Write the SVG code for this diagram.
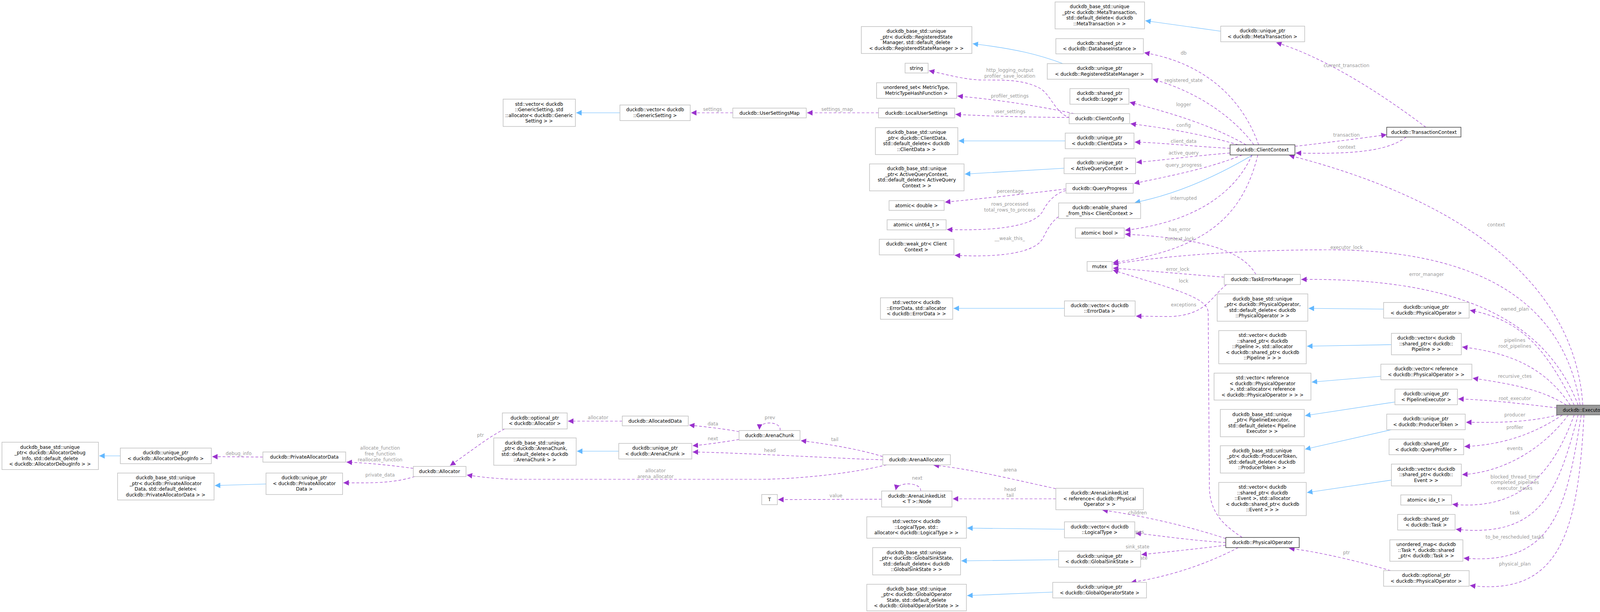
<svg xmlns="http://www.w3.org/2000/svg" width="4124" height="1568" viewBox="0 0 4124 1568">
<style>
text{font-family:"DejaVu Sans","Liberation Sans",sans-serif;font-size:12px;fill:#000;text-anchor:middle}
.n rect{fill:#fff;stroke:#bfbfbf;stroke-width:1.5}
.k rect{fill:#fff;stroke:#404040;stroke-width:1.5}
.x rect{fill:#999;stroke:#666;stroke-width:1.5}
.e path{fill:none}
.p{stroke:#9a32cd;stroke-dasharray:7,5;stroke-width:1.2;marker-end:url(#mp)}
.b{stroke:#63b8ff;stroke-width:1.2;marker-end:url(#mb)}
.l text{fill:#9a9a9a}
</style>
<defs>
<marker id="mp" viewBox="0 0 10 10" refX="10" refY="5" markerWidth="14" markerHeight="14" markerUnits="userSpaceOnUse" orient="auto"><path d="M0,0L10,5L0,10z" fill="#9a32cd"/></marker>
<marker id="mb" viewBox="0 0 10 10" refX="10" refY="5" markerWidth="14" markerHeight="14" markerUnits="userSpaceOnUse" orient="auto"><path d="M0,0L10,5L0,10z" fill="#63b8ff"/></marker>
</defs>
<rect width="4124" height="1568" fill="#fff"/>
<g id="edges" class="e">
<path class="b" d="M3125,80 L2932,53"/>
<path class="b" d="M2721,163 C2660,140 2600,125 2490,112"/>
<path class="b" d="M2727,361 L2454,361"/>
<path class="b" d="M2724,431 L2470,446"/>
<path class="b" d="M3207,397 C3100,460 3000,500 2905,519"/>
<path class="b" d="M1587,289 L1475,289"/>
<path class="b" d="M308,1168 L254,1168"/>
<path class="b" d="M681,1240 L550,1244"/>
<path class="b" d="M1584,1156 L1477,1156"/>
<path class="b" d="M2725,790 L2441,790"/>
<path class="b" d="M2725,1356 L2476,1353"/>
<path class="b" d="M2710,1434 L2461,1437"/>
<path class="b" d="M2695,1517 L2476,1526"/>
<path class="b" d="M3542,792 L3350,790"/>
<path class="b" d="M3562,883 L3346,887"/>
<path class="b" d="M3535,964 L3358,979"/>
<path class="b" d="M3571,1030 L3341,1065"/>
<path class="b" d="M3562,1101 L3341,1151"/>
<path class="b" d="M3562,1230 L3346,1262"/>
<path class="p" d="M3222,371 C3180,250 3080,160 2929,135"/>
<path class="p" d="M3210,371 C3150,290 3050,230 2951,203"/>
<path class="p" d="M3190,371 C3100,320 3000,290 2892,262"/>
<path class="p" d="M3170,371 C3080,345 3000,330 2894,317"/>
<path class="p" d="M3149,380 C3050,375 2980,366 2905,364"/>
<path class="p" d="M3149,392 C3050,400 2980,410 2909,416"/>
<path class="p" d="M3180,397 C3100,430 3000,450 2903,470"/>
<path class="p" d="M3205,397 C3160,500 3050,570 2880,590"/>
<path class="p" d="M3220,397 C3180,560 3080,640 2849,673"/>
<path class="p" d="M3315,375 C3400,365 3480,355 3550,345"/>
<path class="p" d="M3600,351 C3550,390 3450,395 3317,392"/>
<path class="p" d="M3650,326 C3550,250 3400,150 3267,109"/>
<path class="p" d="M4052,1038 C4030,700 3700,500 3300,398"/>
<path class="p" d="M4045,1038 C4000,750 3750,640 3400,640 C3150,640 2950,660 2849,677"/>
<path class="p" d="M4040,1038 C3950,800 3700,712 3331,716"/>
<path class="p" d="M4030,1038 C3960,900 3900,820 3763,795"/>
<path class="p" d="M4020,1038 C3960,950 3880,905 3743,889"/>
<path class="p" d="M4010,1038 C3950,1000 3880,985 3770,969"/>
<path class="p" d="M3986,1045 C3900,1035 3820,1025 3733,1022"/>
<path class="p" d="M3990,1063 C3900,1085 3820,1082 3753,1082"/>
<path class="p" d="M4000,1063 C3930,1110 3850,1140 3749,1144"/>
<path class="p" d="M4015,1063 C3950,1150 3850,1210 3743,1216"/>
<path class="p" d="M4030,1063 C3980,1200 3900,1310 3718,1292"/>
<path class="p" d="M4040,1063 C3990,1250 3950,1380 3727,1356"/>
<path class="p" d="M4048,1063 C4010,1300 3980,1450 3747,1430"/>
<path class="p" d="M4055,1063 C4040,1350 4000,1530 3763,1500"/>
<path class="p" d="M3215,703 C3180,640 3070,610 2880,600"/>
<path class="p" d="M3134,710 C3000,700 2900,690 2849,687"/>
<path class="p" d="M3140,729 C3100,760 3090,805 3000,811 L2908,810"/>
<path class="p" d="M3180,1377 C3140,1350 3098,1320 3096,1250 L3093,800 C3090,760 3000,740 2849,692"/>
<path class="p" d="M3138,1380 C3050,1350 2920,1320 2822,1307"/>
<path class="p" d="M3138,1390 C3050,1385 2950,1370 2907,1366"/>
<path class="p" d="M3138,1397 C3050,1408 2950,1418 2922,1421"/>
<path class="p" d="M3170,1403 C3080,1450 2980,1480 2895,1492"/>
<path class="p" d="M3560,1462 C3450,1430 3350,1410 3300,1405"/>
<path class="p" d="M2703,1252 C2600,1230 2480,1200 2390,1192"/>
<path class="p" d="M2703,1278 L2439,1278"/>
<path class="p" d="M2357,1258 C2360,1236 2298,1232 2293,1256"/>
<path class="p" d="M2257,1279 L1992,1280"/>
<path class="p" d="M2260,1170 C2200,1150 2100,1135 2050,1129"/>
<path class="p" d="M2260,1178 C2150,1175 1900,1160 1773,1158"/>
<path class="p" d="M2270,1191 C2150,1220 2000,1228 1950,1228 L1330,1228 C1280,1228 1230,1222 1195,1217"/>
<path class="p" d="M1892,1106 C1850,1098 1800,1093 1764,1089"/>
<path class="p" d="M1892,1126 C1850,1133 1800,1140 1773,1142"/>
<path class="p" d="M1997,1103 C2002,1080 1945,1075 1944,1101"/>
<path class="p" d="M1593,1079 L1454,1079"/>
<path class="p" d="M1292,1099 C1250,1120 1200,1160 1152,1193"/>
<path class="p" d="M1058,1200 C1000,1192 940,1186 887,1184"/>
<path class="p" d="M1062,1221 C1000,1240 940,1237 879,1237"/>
<path class="p" d="M673,1171 L543,1170"/>
<path class="p" d="M2740,302 C2700,290 2690,240 2660,225 C2620,205 2580,205 2520,205 C2470,205 2420,190 2378,181"/>
<path class="p" d="M2750,291 C2650,270 2550,255 2451,246"/>
<path class="p" d="M2737,301 C2600,300 2500,296 2446,293"/>
<path class="p" d="M2249,289 L2066,289"/>
<path class="p" d="M1876,289 L1769,289"/>
<path class="p" d="M2729,484 C2600,500 2500,510 2419,518"/>
<path class="p" d="M2729,488 C2700,495 2680,520 2670,540 C2650,580 2550,592 2424,588"/>
<path class="p" d="M2710,555 C2690,570 2680,590 2670,610 C2650,650 2550,660 2444,654"/>
</g>
<g id="labels" class="l">
<text x="3030" y="140">db</text><text x="3030" y="210">registered_state</text><text x="3030" y="272">logger</text><text x="3030" y="325">config</text><text x="3030" y="366">client_data</text><text x="3030" y="396">active_query</text><text x="3030" y="427">query_progress</text><text x="3030" y="512">interrupted</text><text x="3020" y="592">has_error</text><text x="3020" y="616">context_lock</text>
<text x="3447" y="350">transaction</text><text x="3447" y="381">context</text><text x="3447" y="172">current_transaction</text><text x="3830" y="580">context</text>
<text x="3447" y="638">executor_lock</text><text x="3652" y="707">error_manager</text><text x="3015" y="694">error_lock</text><text x="3030" y="724">lock</text><text x="3030" y="785">exceptions</text>
<text x="3878" y="796">owned_plan</text><text x="3878" y="876">pipelines</text><text x="3878" y="891">root_pipelines</text><text x="3878" y="968">recursive_ctes</text><text x="3878" y="1025">root_executor</text><text x="3878" y="1067">producer</text><text x="3878" y="1099">profiler</text><text x="3878" y="1153">events</text><text x="3878" y="1226">blocked_thread_time</text><text x="3878" y="1240">completed_pipelines</text><text x="3878" y="1255">executor_tasks</text><text x="3878" y="1318">task</text><text x="3878" y="1380">to_be_rescheduled_tasks</text><text x="3878" y="1449">physical_plan</text>
<text x="3447" y="1420">ptr</text><text x="2912" y="1318">children</text><text x="2912" y="1367">types</text><text x="2912" y="1405">sink_state</text><text x="2912" y="1434">op_state</text>
<text x="2586" y="1208">arena</text><text x="2586" y="1258">head</text><text x="2586" y="1273">tail</text><text x="2348" y="1229">next</text><text x="2140" y="1274">value</text><text x="2137" y="1130">tail</text><text x="1971" y="1158">head</text><text x="1678" y="1210">allocator</text><text x="1678" y="1225">arena_allocator</text>
<text x="1825" y="1090">data</text><text x="1825" y="1128">next</text><text x="1971" y="1074">prev</text><text x="1531" y="1074">allocator</text><text x="1230" y="1119">ptr</text>
<text x="973" y="1152">allocate_function</text><text x="973" y="1167">free_function</text><text x="973" y="1182">reallocate_function</text><text x="973" y="1221">private_data</text><text x="611" y="1166">debug_info</text>
<text x="2585" y="184">http_logging_output</text><text x="2585" y="199">profiler_save_location</text><text x="2585" y="250">profiler_settings</text><text x="2585" y="290">user_settings</text><text x="2143" y="284">settings_map</text><text x="1824" y="284">settings</text>
<text x="2586" y="494">percentage</text><text x="2585" y="527">rows_processed</text><text x="2585" y="542">total_rows_to_process</text><text x="2585" y="615">__weak_this_</text>
</g>
<g id="n1" class="n"><rect x="2701" y="5" width="229" height="69"/><text x="2815" y="21">duckdb_base_std::unique</text><text x="2815" y="36">_ptr&lt; duckdb::MetaTransaction,</text><text x="2815" y="50">std::default_delete&lt; duckdb</text><text x="2815" y="65">::MetaTransaction &gt; &gt;</text></g>
<g id="n2" class="n"><rect x="2205" y="68" width="283" height="69"/><text x="2346" y="84">duckdb_base_std::unique</text><text x="2346" y="99">_ptr&lt; duckdb::RegisteredState</text><text x="2346" y="113">Manager, std::default_delete</text><text x="2346" y="128">&lt; duckdb::RegisteredStateManager &gt; &gt;</text></g>
<g id="n3" class="n"><rect x="2703" y="99" width="224" height="39"/><text x="2815" y="115">duckdb::shared_ptr</text><text x="2815" y="129">&lt; duckdb::DatabaseInstance &gt;</text></g>
<g id="n4" class="n"><rect x="2317" y="162" width="59" height="25"/><text x="2346" y="179">string</text></g>
<g id="n5" class="n"><rect x="2681" y="163" width="268" height="40"/><text x="2815" y="179">duckdb::unique_ptr</text><text x="2815" y="194">&lt; duckdb::RegisteredStateManager &gt;</text></g>
<g id="n6" class="n"><rect x="2244" y="212" width="205" height="40"/><text x="2346" y="228">unordered_set&lt; MetricType,</text><text x="2346" y="243">MetricTypeHashFunction &gt;</text></g>
<g id="n7" class="n"><rect x="2739" y="227" width="151" height="40"/><text x="2815" y="243">duckdb::shared_ptr</text><text x="2815" y="258">&lt; duckdb::Logger &gt;</text></g>
<g id="n8" class="n"><rect x="2249" y="277" width="195" height="25"/><text x="2346" y="294">duckdb::LocalUserSettings</text></g>
<g id="n9" class="n"><rect x="2737" y="291" width="155" height="26"/><text x="2815" y="308">duckdb::ClientConfig</text></g>
<g id="n10" class="n"><rect x="2241" y="327" width="211" height="69"/><text x="2346" y="343">duckdb_base_std::unique</text><text x="2346" y="358">_ptr&lt; duckdb::ClientData,</text><text x="2346" y="372">std::default_delete&lt; duckdb</text><text x="2346" y="387">::ClientData &gt; &gt;</text></g>
<g id="n11" class="n"><rect x="2727" y="341" width="176" height="40"/><text x="2815" y="357">duckdb::unique_ptr</text><text x="2815" y="372">&lt; duckdb::ClientData &gt;</text></g>
<g id="n12" class="n"><rect x="2724" y="405" width="183" height="40"/><text x="2815" y="421">duckdb::unique_ptr</text><text x="2815" y="436">&lt; ActiveQueryContext &gt;</text></g>
<g id="n13" class="n"><rect x="2226" y="420" width="242" height="69"/><text x="2347" y="436">duckdb_base_std::unique</text><text x="2347" y="451">_ptr&lt; ActiveQueryContext,</text><text x="2347" y="465">std::default_delete&lt; ActiveQuery</text><text x="2347" y="480">Context &gt; &gt;</text></g>
<g id="n14" class="n"><rect x="2729" y="470" width="172" height="25"/><text x="2815" y="487">duckdb::QueryProgress</text></g>
<g id="n15" class="n"><rect x="2276" y="514" width="141" height="25"/><text x="2346" y="531">atomic&lt; double &gt;</text></g>
<g id="n16" class="n"><rect x="2710" y="520" width="210" height="40"/><text x="2815" y="536">duckdb::enable_shared</text><text x="2815" y="551">_from_this&lt; ClientContext &gt;</text></g>
<g id="n17" class="n"><rect x="2271" y="563" width="151" height="26"/><text x="2346" y="580">atomic&lt; uint64_t &gt;</text></g>
<g id="n18" class="n"><rect x="2753" y="584" width="125" height="26"/><text x="2815" y="601">atomic&lt; bool &gt;</text></g>
<g id="n19" class="n"><rect x="2251" y="613" width="191" height="40"/><text x="2346" y="629">duckdb::weak_ptr&lt; Client</text><text x="2346" y="644">Context &gt;</text></g>
<g id="n20" class="n"><rect x="2783" y="670" width="64" height="25"/><text x="2815" y="687">mutex</text></g>
<g id="n21" class="n"><rect x="2254" y="763" width="185" height="55"/><text x="2346" y="779">std::vector&lt; duckdb</text><text x="2346" y="794">::ErrorData, std::allocator</text><text x="2346" y="808">&lt; duckdb::ErrorData &gt; &gt;</text></g>
<g id="n22" class="n"><rect x="2725" y="771" width="181" height="39"/><text x="2815" y="787">duckdb::vector&lt; duckdb</text><text x="2815" y="801">::ErrorData &gt;</text></g>
<g id="n23" class="n"><rect x="1288" y="254" width="185" height="70"/><text x="1380" y="271">std::vector&lt; duckdb</text><text x="1380" y="285">::GenericSetting, std</text><text x="1380" y="300">::allocator&lt; duckdb::Generic</text><text x="1380" y="314">Setting &gt; &gt;</text></g>
<g id="n24" class="n"><rect x="1587" y="269" width="180" height="40"/><text x="1677" y="285">duckdb::vector&lt; duckdb</text><text x="1677" y="300">::GenericSetting &gt;</text></g>
<g id="n25" class="n"><rect x="1876" y="277" width="188" height="25"/><text x="1970" y="294">duckdb::UserSettingsMap</text></g>
<g id="n26" class="n"><rect x="5" y="1133" width="247" height="70"/><text x="128" y="1150">duckdb_base_std::unique</text><text x="128" y="1164">_ptr&lt; duckdb::AllocatorDebug</text><text x="128" y="1179">Info, std::default_delete</text><text x="128" y="1193">&lt; duckdb::AllocatorDebugInfo &gt; &gt;</text></g>
<g id="n27" class="n"><rect x="308" y="1148" width="233" height="40"/><text x="424" y="1164">duckdb::unique_ptr</text><text x="424" y="1179">&lt; duckdb::AllocatorDebugInfo &gt;</text></g>
<g id="n28" class="n"><rect x="673" y="1158" width="212" height="26"/><text x="779" y="1175">duckdb::PrivateAllocatorData</text></g>
<g id="n29" class="n"><rect x="1058" y="1195" width="135" height="26"/><text x="1125" y="1212">duckdb::Allocator</text></g>
<g id="n30" class="n"><rect x="301" y="1212" width="247" height="69"/><text x="424" y="1228">duckdb_base_std::unique</text><text x="424" y="1243">_ptr&lt; duckdb::PrivateAllocator</text><text x="424" y="1257">Data, std::default_delete&lt;</text><text x="424" y="1272">duckdb::PrivateAllocatorData &gt; &gt;</text></g>
<g id="n31" class="n"><rect x="681" y="1212" width="196" height="55"/><text x="779" y="1228">duckdb::unique_ptr</text><text x="779" y="1243">&lt; duckdb::PrivateAllocator</text><text x="779" y="1257">Data &gt;</text></g>
<g id="n32" class="n"><rect x="1286" y="1058" width="166" height="41"/><text x="1369" y="1075">duckdb::optional_ptr</text><text x="1369" y="1089">&lt; duckdb::Allocator &gt;</text></g>
<g id="n33" class="n"><rect x="1593" y="1066" width="169" height="25"/><text x="1677" y="1083">duckdb::AllocatedData</text></g>
<g id="n34" class="n"><rect x="1892" y="1103" width="156" height="25"/><text x="1970" y="1120">duckdb::ArenaChunk</text></g>
<g id="n35" class="n"><rect x="1264" y="1122" width="211" height="70"/><text x="1369" y="1139">duckdb_base_std::unique</text><text x="1369" y="1153">_ptr&lt; duckdb::ArenaChunk,</text><text x="1369" y="1168">std::default_delete&lt; duckdb</text><text x="1369" y="1182">::ArenaChunk &gt; &gt;</text></g>
<g id="n36" class="n"><rect x="1584" y="1136" width="187" height="40"/><text x="1677" y="1152">duckdb::unique_ptr</text><text x="1677" y="1167">&lt; duckdb::ArenaChunk &gt;</text></g>
<g id="n37" class="n"><rect x="1950" y="1267" width="40" height="26"/><text x="1970" y="1284">T</text></g>
<g id="n38" class="n"><rect x="2260" y="1165" width="173" height="26"/><text x="2346" y="1182">duckdb::ArenaAllocator</text></g>
<g id="n39" class="n"><rect x="2257" y="1258" width="180" height="41"/><text x="2347" y="1275">duckdb::ArenaLinkedList</text><text x="2347" y="1289">&lt; T &gt;::Node</text></g>
<g id="n40" class="n"><rect x="2703" y="1251" width="224" height="55"/><text x="2815" y="1267">duckdb::ArenaLinkedList</text><text x="2815" y="1282">&lt; reference&lt; duckdb::Physical</text><text x="2815" y="1296">Operator &gt; &gt;</text></g>
<g id="n41" class="n"><rect x="2219" y="1324" width="255" height="55"/><text x="2346" y="1340">std::vector&lt; duckdb</text><text x="2346" y="1355">::LogicalType, std::</text><text x="2346" y="1369">allocator&lt; duckdb::LogicalType &gt; &gt;</text></g>
<g id="n42" class="n"><rect x="2725" y="1337" width="180" height="41"/><text x="2815" y="1354">duckdb::vector&lt; duckdb</text><text x="2815" y="1368">::LogicalType &gt;</text></g>
<g id="n43" class="n"><rect x="2234" y="1403" width="225" height="70"/><text x="2346" y="1420">duckdb_base_std::unique</text><text x="2346" y="1434">_ptr&lt; duckdb::GlobalSinkState,</text><text x="2346" y="1449">std::default_delete&lt; duckdb</text><text x="2346" y="1463">::GlobalSinkState &gt; &gt;</text></g>
<g id="n44" class="n"><rect x="2710" y="1412" width="210" height="41"/><text x="2815" y="1429">duckdb::unique_ptr</text><text x="2815" y="1443">&lt; duckdb::GlobalSinkState &gt;</text></g>
<g id="n45" class="n"><rect x="2219" y="1497" width="255" height="68"/><text x="2346" y="1513">duckdb_base_std::unique</text><text x="2346" y="1527">_ptr&lt; duckdb::GlobalOperator</text><text x="2346" y="1542">State, std::default_delete</text><text x="2346" y="1556">&lt; duckdb::GlobalOperatorState &gt; &gt;</text></g>
<g id="n46" class="n"><rect x="2695" y="1492" width="240" height="40"/><text x="2815" y="1508">duckdb::unique_ptr</text><text x="2815" y="1523">&lt; duckdb::GlobalOperatorState &gt;</text></g>
<g id="n47" class="n"><rect x="3125" y="67" width="215" height="40"/><text x="3232" y="83">duckdb::unique_ptr</text><text x="3232" y="98">&lt; duckdb::MetaTransaction &gt;</text></g>
<g id="n48" class="k"><rect x="3149" y="371" width="166" height="26"/><text x="3232" y="388">duckdb::ClientContext</text></g>
<g id="n49" class="k"><rect x="3550" y="326" width="190" height="25"/><text x="3645" y="343">duckdb::TransactionContext</text></g>
<g id="n50" class="n"><rect x="3134" y="703" width="195" height="26"/><text x="3231" y="720">duckdb::TaskErrorManager</text></g>
<g id="n51" class="n"><rect x="3116" y="753" width="232" height="70"/><text x="3232" y="770">duckdb_base_std::unique</text><text x="3232" y="784">_ptr&lt; duckdb::PhysicalOperator,</text><text x="3232" y="799">std::default_delete&lt; duckdb</text><text x="3232" y="813">::PhysicalOperator &gt; &gt;</text></g>
<g id="n52" class="n"><rect x="3542" y="775" width="219" height="40"/><text x="3651" y="791">duckdb::unique_ptr</text><text x="3651" y="806">&lt; duckdb::PhysicalOperator &gt;</text></g>
<g id="n53" class="n"><rect x="3120" y="847" width="224" height="85"/><text x="3232" y="863">std::vector&lt; duckdb</text><text x="3232" y="878">::shared_ptr&lt; duckdb</text><text x="3232" y="892">::Pipeline &gt;, std::allocator</text><text x="3232" y="907">&lt; duckdb::shared_ptr&lt; duckdb</text><text x="3232" y="921">::Pipeline &gt; &gt; &gt;</text></g>
<g id="n54" class="n"><rect x="3562" y="854" width="179" height="55"/><text x="3651" y="870">duckdb::vector&lt; duckdb</text><text x="3651" y="885">::shared_ptr&lt; duckdb::</text><text x="3651" y="899">Pipeline &gt; &gt;</text></g>
<g id="n55" class="n"><rect x="3108" y="956" width="248" height="69"/><text x="3232" y="972">std::vector&lt; reference</text><text x="3232" y="987">&lt; duckdb::PhysicalOperator</text><text x="3232" y="1001">&gt;, std::allocator&lt; reference</text><text x="3232" y="1016">&lt; duckdb::PhysicalOperator &gt; &gt; &gt;</text></g>
<g id="n56" class="n"><rect x="3535" y="933" width="233" height="40"/><text x="3651" y="949">duckdb::vector&lt; reference</text><text x="3651" y="964">&lt; duckdb::PhysicalOperator &gt; &gt;</text></g>
<g id="n57" class="n"><rect x="3571" y="997" width="160" height="40"/><text x="3651" y="1013">duckdb::unique_ptr</text><text x="3651" y="1028">&lt; PipelineExecutor &gt;</text></g>
<g id="n58" class="n"><rect x="3124" y="1049" width="215" height="70"/><text x="3231" y="1066">duckdb_base_std::unique</text><text x="3231" y="1080">_ptr&lt; PipelineExecutor,</text><text x="3231" y="1095">std::default_delete&lt; Pipeline</text><text x="3231" y="1109">Executor &gt; &gt;</text></g>
<g id="n59" class="x"><rect x="3985" y="1038" width="133" height="25"/><text x="4051" y="1055" style="font-size:11.5px">duckdb::Executor</text></g>
<g id="n60" class="n"><rect x="3550" y="1061" width="201" height="40"/><text x="3650" y="1077">duckdb::unique_ptr</text><text x="3650" y="1092">&lt; duckdb::ProducerToken &gt;</text></g>
<g id="n61" class="n"><rect x="3556" y="1125" width="191" height="40"/><text x="3651" y="1141">duckdb::shared_ptr</text><text x="3651" y="1156">&lt; duckdb::QueryProfiler &gt;</text></g>
<g id="n62" class="n"><rect x="3124" y="1142" width="215" height="70"/><text x="3231" y="1159">duckdb_base_std::unique</text><text x="3231" y="1173">_ptr&lt; duckdb::ProducerToken,</text><text x="3231" y="1188">std::default_delete&lt; duckdb</text><text x="3231" y="1202">::ProducerToken &gt; &gt;</text></g>
<g id="n63" class="n"><rect x="3562" y="1189" width="179" height="56"/><text x="3651" y="1206">duckdb::vector&lt; duckdb</text><text x="3651" y="1220">::shared_ptr&lt; duckdb::</text><text x="3651" y="1235">Event &gt; &gt;</text></g>
<g id="n64" class="n"><rect x="3120" y="1236" width="224" height="85"/><text x="3232" y="1252">std::vector&lt; duckdb</text><text x="3232" y="1267">::shared_ptr&lt; duckdb</text><text x="3232" y="1281">::Event &gt;, std::allocator</text><text x="3232" y="1296">&lt; duckdb::shared_ptr&lt; duckdb</text><text x="3232" y="1310">::Event &gt; &gt; &gt;</text></g>
<g id="n65" class="n"><rect x="3586" y="1268" width="130" height="26"/><text x="3651" y="1285">atomic&lt; idx_t &gt;</text></g>
<g id="n66" class="n"><rect x="3578" y="1318" width="147" height="40"/><text x="3651" y="1334">duckdb::shared_ptr</text><text x="3651" y="1349">&lt; duckdb::Task &gt;</text></g>
<g id="n67" class="k"><rect x="3138" y="1377" width="188" height="26"/><text x="3232" y="1394">duckdb::PhysicalOperator</text></g>
<g id="n68" class="n"><rect x="3558" y="1383" width="187" height="55"/><text x="3651" y="1399">unordered_map&lt; duckdb</text><text x="3651" y="1414">::Task *, duckdb::shared</text><text x="3651" y="1428">_ptr&lt; duckdb::Task &gt; &gt;</text></g>
<g id="n69" class="n"><rect x="3542" y="1462" width="219" height="40"/><text x="3651" y="1478">duckdb::optional_ptr</text><text x="3651" y="1493">&lt; duckdb::PhysicalOperator &gt;</text></g>
</svg>
